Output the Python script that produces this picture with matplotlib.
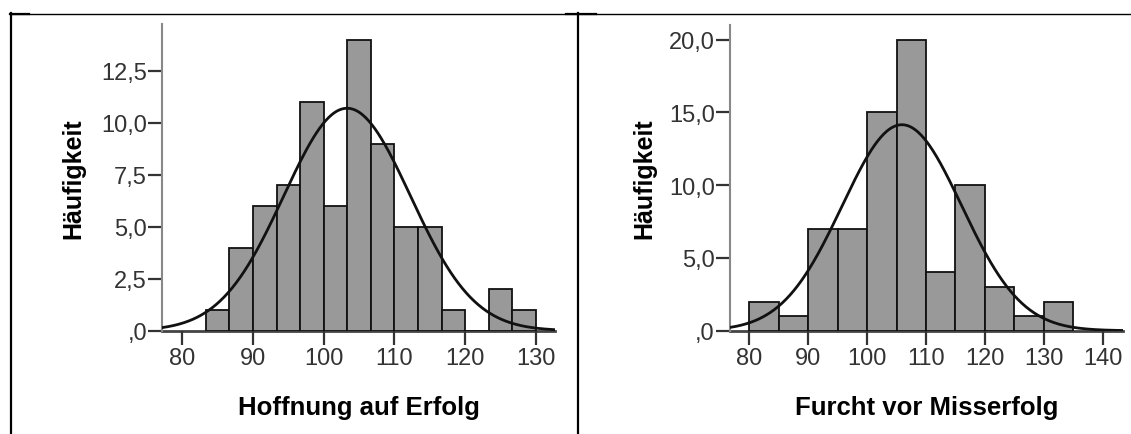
import numpy as np
import matplotlib.pyplot as plt

plt.rcParams['font.family'] = ['Liberation Sans', 'DejaVu Sans']

W, H = 1131, 435

# Hoffnung auf Erfolg
hope_counts = [1, 4, 6, 7, 11, 6, 14, 9, 5, 5, 1, 0, 2, 1]
hope_first_edge = 83.333
hope_bin_width = 3.3333
hope_mean, hope_sd = 103.3, 8.95
hope_xticks = [80, 90, 100, 110, 120, 130]
hope_yticks = [0, 2.5, 5, 7.5, 10, 12.5]
hope_yticklabels = [",0", "2,5", "5,0", "7,5", "10,0", "12,5"]

# Furcht vor Misserfolg
fear_counts = [2, 1, 7, 7, 15, 20, 4, 10, 3, 1, 2]
fear_first_edge = 80
fear_bin_width = 5
fear_mean, fear_sd = 105.9, 10.15
fear_xticks = [80, 90, 100, 110, 120, 130, 140]
fear_yticks = [0, 5, 10, 15, 20]
fear_yticklabels = [",0", "5,0", "10,0", "15,0", "20,0"]


def px_axes(fig, left, top, right, bottom):
    # pixel box (origin top-left) -> figure fraction
    return fig.add_axes([left / W, 1 - bottom / H, (right - left) / W, (bottom - top) / H])


def draw_hist(fig, box, xlim, ylim, counts, first_edge, width, mean, sd,
              xticks, yticks, yticklabels, xlabel, ylabel_x):
    ax = px_axes(fig, *box)
    ax.set_xlim(*xlim)
    ax.set_ylim(*ylim)

    edges = first_edge + width * np.arange(len(counts))
    ax.bar(edges, counts, width=width, align='edge', color='#999999',
           edgecolor='#111111', linewidth=1.3, zorder=2)

    # fitted normal curve, scaled to counts
    n = sum(counts)
    xs = np.linspace(xlim[0], xlim[1], 400)
    ys = n * width / (sd * np.sqrt(2 * np.pi)) * np.exp(-0.5 * ((xs - mean) / sd) ** 2)
    ax.plot(xs, ys, color='#111111', linewidth=2.0, zorder=3)

    for s in ['top', 'right']:
        ax.spines[s].set_visible(False)
    ax.spines['left'].set_color('#888888')
    ax.spines['left'].set_linewidth(1.5)
    ax.spines['bottom'].set_color('#444444')
    ax.spines['bottom'].set_linewidth(2.0)
    ax.spines['bottom'].set_zorder(1)

    ax.set_xticks(xticks)
    ax.set_xticklabels([str(t) for t in xticks])
    ax.set_yticks(yticks)
    ax.set_yticklabels(yticklabels)
    ax.tick_params(axis='both', direction='out', length=10, width=1.6,
                   color='#333333', labelcolor='#333333', labelsize=17)
    ax.tick_params(axis='y', pad=1)
    ax.tick_params(axis='x', pad=2)

    cx = (box[0] + box[2]) / 2
    fig.text(cx / W, 1 - 415 / H, xlabel, ha='center', va='baseline',
             fontsize=18.5, fontweight='bold', color='#000000')
    cy = (box[1] + box[3]) / 2
    fig.text(ylabel_x / W, 1 - cy / H, 'Häufigkeit', ha='center', va='center',
             rotation=90, fontsize=18, fontweight='bold', color='#000000')
    return ax


fig = plt.figure(figsize=(W / 100, H / 100), dpi=100)

# table frame lines
bg = fig.add_axes([0, 0, 1, 1], zorder=-1)
bg.set_xlim(0, W)
bg.set_ylim(H, 0)
bg.axis('off')
bg.plot([10, W], [14.5, 14.5], color='black', linewidth=1.0)
bg.plot([11, 11], [14, H], color='black', linewidth=1.6)
bg.plot([577.5, 577.5], [14, H], color='black', linewidth=1.6)
bg.plot([10, 29], [15, 15], color='black', linewidth=1.6)
bg.plot([566, 596], [15, 15], color='black', linewidth=1.6)

draw_hist(fig, (162.3, 25, 555, 331.7), (77.17, 132.7), (0, 14.75),
          hope_counts, hope_first_edge, hope_bin_width, hope_mean, hope_sd,
          hope_xticks, hope_yticks, hope_yticklabels, 'Hoffnung auf Erfolg', 73)

draw_hist(fig, (730, 26, 1122.7, 331.7), (76.7, 143.4), (0, 21.0),
          fear_counts, fear_first_edge, fear_bin_width, fear_mean, fear_sd,
          fear_xticks, fear_yticks, fear_yticklabels, 'Furcht vor Misserfolg', 644)

fig.savefig('out.png', dpi=100)
